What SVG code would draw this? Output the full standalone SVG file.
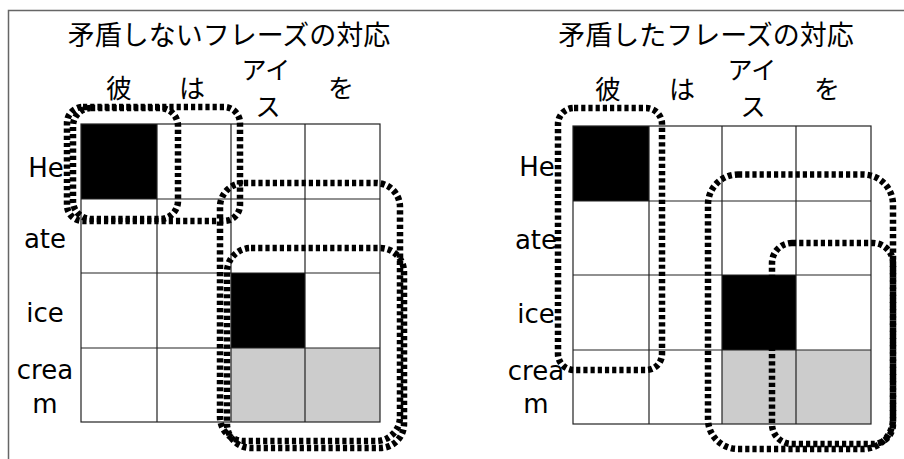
<svg xmlns="http://www.w3.org/2000/svg" width="904" height="459" viewBox="0 0 904 459">
<style>
.bg{fill:#ffffff}
.frame{fill:none;stroke:#666666;stroke-width:1.5}
.grid{fill:none;stroke:#222222;stroke-width:1.2}
.blk{fill:#000000}
.gry{fill:#cccccc}
.ttl{font-family:"Noto Sans CJK JP","DejaVu Sans",sans-serif;font-size:27px;fill:#000;text-anchor:middle}
.hdr{font-family:"Noto Sans CJK JP","DejaVu Sans",sans-serif;font-size:26px;fill:#000;text-anchor:middle}
.hdr2{font-family:"Noto Sans CJK JP","DejaVu Sans",sans-serif;font-size:25px;fill:#000;text-anchor:middle}
.lbl{font-family:"DejaVu Sans","Noto Sans CJK JP",sans-serif;font-size:26px;fill:#000;text-anchor:middle}
.dash{fill:none;stroke:#000000;stroke-width:6.5;stroke-dasharray:4.2 3}
</style>
<rect class="bg" x="0" y="0" width="904" height="459"/>
<rect id="frame" class="frame" x="8.5" y="10.5" width="905" height="470"/>

<g id="left-panel">
  <g id="left-title"><text class="ttl" x="229" y="45">矛盾しないフレーズの対応</text></g>
  <g id="left-headers">
    <text class="hdr" x="119" y="98">彼</text>
    <text class="hdr" x="192" y="98">は</text>
    <text class="hdr2"><tspan x="266" y="79">アイ</tspan><tspan x="268" y="116">ス</tspan></text>
    <text class="hdr" x="341" y="98">を</text>
  </g>
  <g id="left-rows">
    <text class="lbl" x="46" y="177">He</text>
    <text class="lbl" x="45" y="248">ate</text>
    <text class="lbl" x="45" y="322">ice</text>
    <text class="lbl"><tspan x="45" y="379">crea</tspan><tspan x="45" y="413">m</tspan></text>
  </g>
  <g id="left-grid">
    <rect class="blk" x="81" y="124" width="76" height="75"/>
    <rect class="blk" x="231" y="273" width="74" height="75"/>
    <rect class="gry" x="231" y="348" width="149" height="74"/>
    <rect class="grid" x="81" y="124" width="299" height="298"/>
    <path class="grid" d="M157 124V422M231 124V422M305 124V422M81 199H380M81 273H380M81 348H380"/>
  </g>
  <g id="left-boxes">
    <rect id="L1" class="dash" x="73" y="108" width="105" height="111" rx="18"/>
    <rect id="L2" class="dash" x="67" y="107" width="173" height="114" rx="16"/>
    <rect id="L3" class="dash" x="220" y="183" width="180" height="258" rx="24"/>
    <rect id="L4" class="dash" x="227" y="248" width="177" height="200" rx="24"/>
  </g>
</g>

<g id="right-panel">
  <g id="right-title"><text class="ttl" x="706" y="45">矛盾したフレーズの対応</text></g>
  <g id="right-headers">
    <text class="hdr" x="608" y="99">彼</text>
    <text class="hdr" x="682" y="99">は</text>
    <text class="hdr2"><tspan x="752" y="79">アイ</tspan><tspan x="753" y="116">ス</tspan></text>
    <text class="hdr" x="827" y="99">を</text>
  </g>
  <g id="right-rows">
    <text class="lbl" x="537" y="176">He</text>
    <text class="lbl" x="536" y="249">ate</text>
    <text class="lbl" x="536" y="323">ice</text>
    <text class="lbl"><tspan x="536" y="380">crea</tspan><tspan x="536" y="413">m</tspan></text>
  </g>
  <g id="right-grid">
    <rect class="blk" x="573" y="126" width="76" height="75"/>
    <rect class="blk" x="722" y="275" width="74" height="75"/>
    <rect class="gry" x="722" y="350" width="149" height="74"/>
    <rect class="grid" x="573" y="126" width="298" height="298"/>
    <path class="grid" d="M649 126V424M722 126V424M796 126V424M573 201H871M573 275H871M573 350H871"/>
  </g>
  <g id="right-boxes">
    <rect id="R1" class="dash" x="558" y="108" width="104" height="262" rx="16"/>
    <rect id="R2" class="dash" x="708" y="174.5" width="185" height="274.5" rx="30"/>
    <rect id="R3" class="dash" x="772" y="243" width="121" height="201" rx="20"/>
  </g>
</g>
</svg>
